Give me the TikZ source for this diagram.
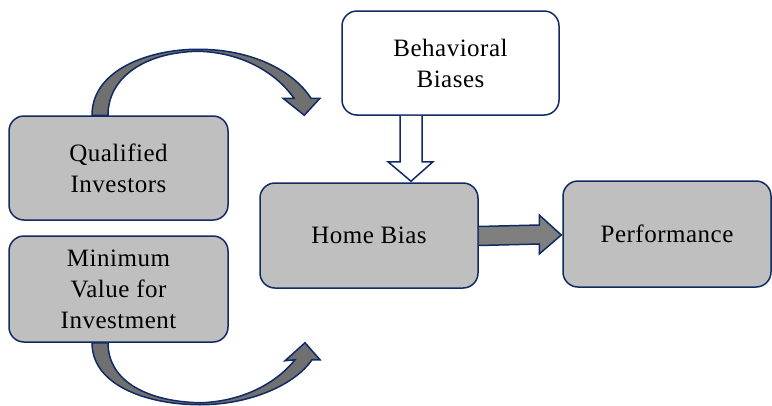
\documentclass[tikz,border=0pt]{standalone}
\usepackage{fontspec}
\setmainfont{Liberation Serif}[LetterSpace=2]
\usetikzlibrary{calc}
\definecolor{navy}{RGB}{16,42,100}
\definecolor{boxgray}{RGB}{191,191,191}
\definecolor{arrgray}{RGB}{127,127,127}
\definecolor{curvgray}{RGB}{112,112,112}
\begin{document}
\begin{tikzpicture}[x=1pt,y=-1pt,
  box/.style={draw=navy,line width=1.5pt,fill=boxgray,rounded corners=15pt,
    align=center,inner sep=0pt,font=\fontsize{25}{31}\selectfont},
  wbox/.style={box,fill=white},
  blockarrow/.style={draw=navy,line width=1.5pt,line join=miter},
]
\useasboundingbox (0,0) rectangle (772,405);
% nodes
\node[box,minimum width=219pt,minimum height=104pt] (qi) at (118.5,168) {Qualified\\Investors};
\node[box,minimum width=219pt,minimum height=106pt] (mv) at (118.5,289) {Minimum\\Value for\\Investment};
\node[wbox,minimum width=217pt,minimum height=104pt] (bb) at (450.5,63) {Behavioral\\Biases};
\node[box,minimum width=218pt,minimum height=105pt] (hb) at (369,235.5) {Home Bias};
\node[box,minimum width=208pt,minimum height=106pt] (pf) at (667,234) {Performance};
% straight block arrows
\draw[blockarrow,fill=arrgray]
  ($(hb.east)+(0,-9)$) -- ($(pf.west)+(-23,-9)$) -- ($(pf.west)+(-23,-19)$)
  -- ($(pf.west)+(-1,1)$) -- ($(pf.west)+(-23,20)$) -- ($(pf.west)+(-23,10)$)
  -- ($(hb.east)+(0,10)$);
\draw[blockarrow,fill=white]
  ($(bb.south)+(-50.5,0)$) -- ($(bb.south)+(-50.5,46)$) -- ($(bb.south)+(-62.5,46)$)
  -- ($(hb.north)+(42,-1)$) -- ($(bb.south)+(-17.5,46)$) -- ($(bb.south)+(-28.5,46)$)
  -- ($(bb.south)+(-28.5,0)$);
% curved arrows
\coordinate (qa) at ($(qi.north)+(-26.5,0)$);
\coordinate (qt) at ($(hb.north west)+(45,-67)$);
\draw[blockarrow,fill=curvgray]
  (qa) .. controls ($(qa)+(0,-46)$) and ($(qa)+(58,-66)$) .. ($(qa)+(106,-66)$)
  .. controls ($(qa)+(158,-66)$) and ($(qa)+(200,-46)$) .. ($(qa)+(219,-17)$)
  -- ($(qa)+(228,-17)$) -- (qt) -- ($(qa)+(191,-17)$) -- ($(qa)+(202,-17)$)
  .. controls ($(qa)+(183,-44)$) and ($(qa)+(148,-63)$) .. ($(qa)+(106,-64)$)
  .. controls ($(qa)+(53,-63)$) and ($(qa)+(16,-38)$) .. ($(qa)+(16,0)$) -- cycle;
\coordinate (ma) at ($(mv.south)+(-26.5,0)$);
\coordinate (mt) at ($(ma)+(213,0)$);
\draw[blockarrow,fill=curvgray]
  (ma) .. controls ($(ma)+(0,44)$) and ($(ma)+(58,62)$) .. ($(ma)+(108,62)$)
  .. controls ($(ma)+(158,62)$) and ($(ma)+(203,42)$) .. ($(ma)+(220,17)$)
  -- ($(ma)+(228,17)$) -- (mt) -- ($(ma)+(193,18)$) -- ($(ma)+(203,17)$)
  .. controls ($(ma)+(183,42)$) and ($(ma)+(148,59)$) .. ($(ma)+(108,60)$)
  .. controls ($(ma)+(58,59)$) and ($(ma)+(16,40)$) .. ($(ma)+(16,0)$) -- cycle;
\end{tikzpicture}
\end{document}
